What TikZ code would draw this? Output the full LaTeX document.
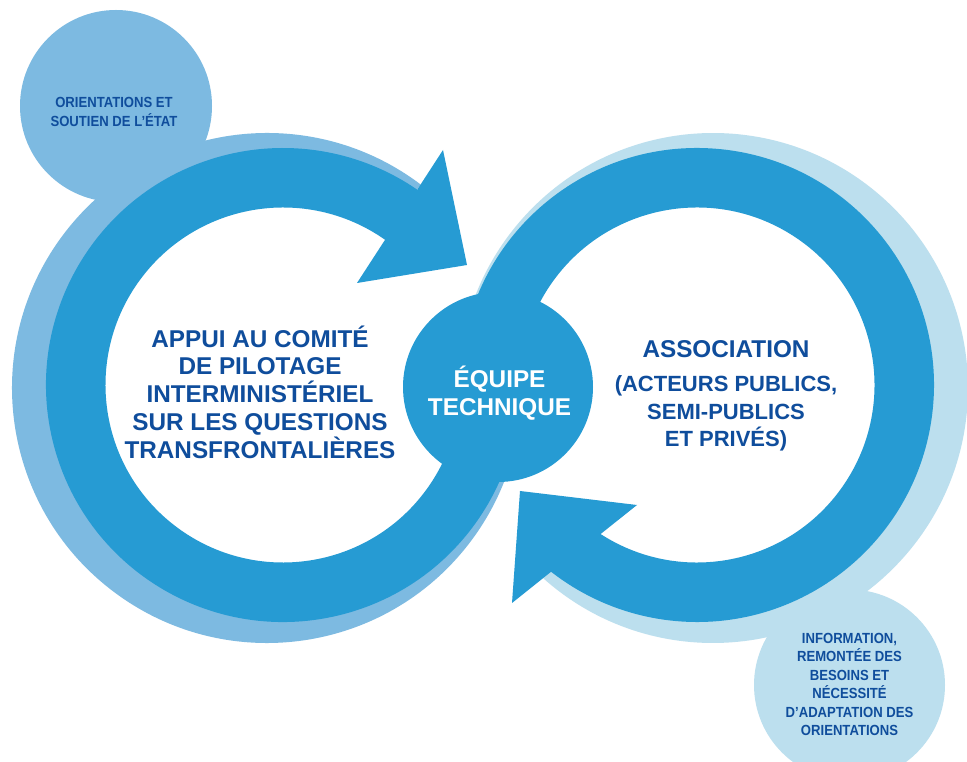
\documentclass[tikz,border=0pt]{standalone}
\usepackage{fontspec}
\usepackage{graphicx}
\setmainfont{Liberation Sans}
\usetikzlibrary{calc}
\definecolor{ringblue}{RGB}{38,155,211}
\definecolor{shadeL}{RGB}{125,186,225}
\definecolor{shadeR}{RGB}{188,223,238}
\definecolor{txtblue}{RGB}{15,77,156}
\newcommand{\tallsm}[1]{\scalebox{1}[1.12]{#1}}
\begin{document}
\begin{tikzpicture}[x=1pt,y=1pt,
  bigtxt/.style={font=\bfseries\fontsize{24.3}{28}\selectfont, text=txtblue, inner sep=0pt, anchor=base},
  midtxt/.style={font=\bfseries\fontsize{22}{26}\selectfont, text=txtblue, inner sep=0pt, anchor=base},
  smalltxt/.style={font=\bfseries\fontsize{13.1}{15}\selectfont, text=txtblue, inner sep=0pt, anchor=base},
  whitetxt/.style={bigtxt, text=white}]
\useasboundingbox (0,0) rectangle (967,761);
\fill[white] (0,0) rectangle (967,761);
% key points
\coordinate (C1) at (283,376);
\coordinate (L1) at (267,373);
\coordinate (C2) at (697,376);
\coordinate (L2) at (713,373);
\coordinate (E)  at (498,374);
\coordinate (TL) at (116,655);
\coordinate (BR) at (849.5,76);
% side circles
\fill[shadeL] (TL) circle[radius=96];
\fill[shadeR] (BR) circle[radius=95.5];
% shadow rings
\fill[shadeL] ($(L1)+(52.9:255)$) arc[start angle=52.9, end angle=350, radius=255]
  -- ($(L1)+(350:200)$) arc[start angle=350, end angle=52.9, radius=200] -- cycle;
\fill[shadeR] ($(L2)+(-131.7:255)$) arc[start angle=-131.7, end angle=190, radius=255]
  -- ($(L2)+(190:200)$) arc[start angle=190, end angle=-131.7, radius=200] -- cycle;
% left circular arrow
\fill[ringblue] ($(C1)+(55.5:237)$) -- (443,611) -- (467,496) -- (357,478)
  -- ($(C1)+(54.9:177.5)$) arc[start angle=54.9, end angle=375, radius=177.5]
  -- ($(C1)+(375:237)$) arc[start angle=375, end angle=55.5, radius=237] -- cycle;
% right circular arrow
\fill[ringblue] ($(C2)+(-128:237)$) -- (512,158) -- (520,270) -- (637,256)
  -- ($(C2)+(-122.9:177.5)$) arc[start angle=-122.9, end angle=175, radius=177.5]
  -- ($(C2)+(175:237)$) arc[start angle=175, end angle=-128, radius=237] -- cycle;
% centre circle
\fill[ringblue] (E) circle[radius=95];
% texts
\node[smalltxt] (tl1) at (114,653.7) {\tallsm{ORIENTATIONS ET}};
\node[smalltxt] (tl2) at (114,634.3) {\tallsm{SOUTIEN DE L’ÉTAT}};
\node[bigtxt] (a1) at (260,413.7) {APPUI AU COMITÉ};
\node[bigtxt] (a2) at (260,386) {DE PILOTAGE};
\node[bigtxt] (a3) at (260,358.2) {INTERMINISTÉRIEL};
\node[bigtxt] (a4) at (260,330.5) {SUR LES QUESTIONS};
\node[bigtxt] (a5) at (260,302.7) {TRANSFRONTALIÈRES};
\node[whitetxt] (e1) at (499.5,373) {ÉQUIPE};
\node[whitetxt] (e2) at (499.5,345) {TECHNIQUE};
\node[bigtxt] (s1) at (726,403) {ASSOCIATION};
\node[midtxt] (s2) at (726,369.3) {(ACTEURS PUBLICS,};
\node[midtxt] (s3) at (726,341.7) {SEMI-PUBLICS};
\node[midtxt] (s4) at (726,314.3) {ET PRIVÉS)};
\node[smalltxt] (b1) at (849.5,117.7) {\tallsm{INFORMATION,}};
\node[smalltxt] (b2) at (849.5,99.2) {\tallsm{REMONTÉE DES}};
\node[smalltxt] (b3) at (849.5,80.7) {\tallsm{BESOINS ET}};
\node[smalltxt] (b4) at (849.5,62.2) {\tallsm{NÉCESSITÉ}};
\node[smalltxt] (b5) at (849.5,43.7) {\tallsm{D’ADAPTATION DES}};
\node[smalltxt] (b6) at (849.5,25.2) {\tallsm{ORIENTATIONS}};
\end{tikzpicture}
\end{document}
